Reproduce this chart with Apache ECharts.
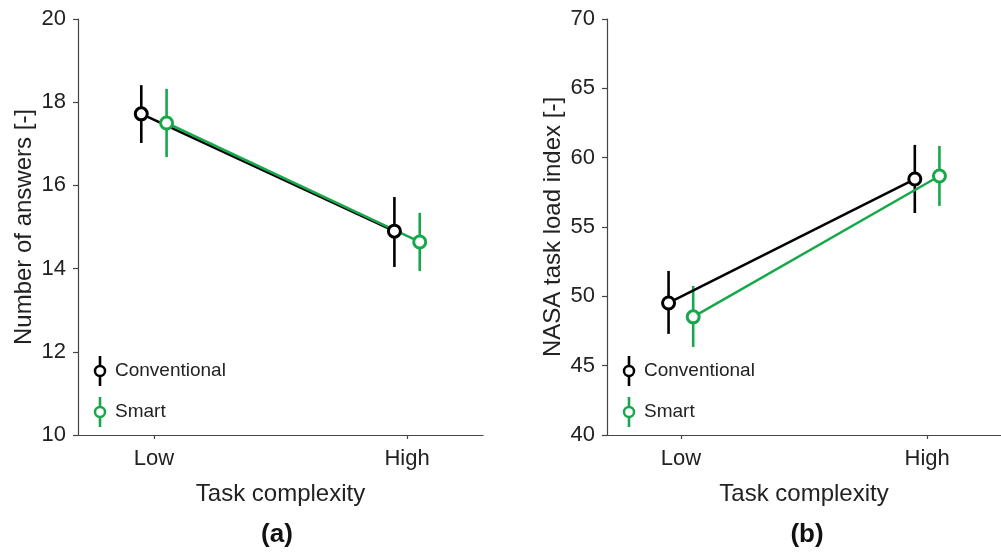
<!DOCTYPE html>
<html>
<head>
<meta charset="utf-8">
<script src="https://cdn.jsdelivr.net/npm/echarts@6/dist/echarts.min.js"></script>
<style>
html,body{margin:0;padding:0;background:#fff;}
#c{width:1001px;height:554px;}
</style>
</head>
<body>
<div id="c"></div>
<script>
// ---- data ----
const categories = ['Low', 'High'];
const catPos = [1, 2];
const groupOffset = 0.05;
const seriesNames = ['Conventional', 'Smart'];

// Panel (a): Number of answers
const convA = [17.72, 14.90];
const convA_lo = [17.02, 14.04];
const convA_hi = [18.41, 15.72];
const smartA = [17.50, 14.64];
const smartA_lo = [16.68, 13.94];
const smartA_hi = [18.32, 15.34];

// Panel (b): NASA task load index
const convB = [49.52, 58.46];
const convB_lo = [47.29, 56.01];
const convB_hi = [51.83, 60.92];
const smartB = [48.52, 58.68];
const smartB_lo = [46.35, 56.52];
const smartB_hi = [50.75, 60.85];

const yTicksA = {min: 10, max: 20, interval: 2};
const yTicksB = {min: 40, max: 70, interval: 5};

// ---- style ----
const BLACK = '#000000';
const GREEN = '#17a84b';
const AXIS = '#444444';
const TXT = '#222222';
const FONT = '"Liberation Sans", Arial, Helvetica, sans-serif';

const chart = echarts.init(document.getElementById('c'), null, {renderer: 'canvas'});

function lineData(vals, off) {
  return vals.map((v, i) => [catPos[i] + off, v]);
}
function errData(lo, hi, off) {
  return lo.map((l, i) => [catPos[i] + off, l, hi[i]]);
}

function xAxisDef(gi) {
  return {
    type: 'value', gridIndex: gi, min: 0.7, max: 2.3,
    name: 'Task complexity', nameLocation: 'middle', nameGap: 47,
    nameTextStyle: {fontSize: 24, color: TXT, fontFamily: FONT},
    axisLine: {show: true, lineStyle: {color: AXIS, width: 1.2}},
    axisTick: {show: true, customValues: catPos, length: 4, lineStyle: {color: AXIS, width: 1.2}},
    axisLabel: {show: true, customValues: catPos, margin: 13, fontSize: 22, color: TXT, fontFamily: FONT,
      formatter: v => categories[catPos.indexOf(Math.round(v))] || ''},
    splitLine: {show: false}
  };
}
function yAxisDef(gi, t, name) {
  return {
    type: 'value', gridIndex: gi, min: t.min, max: t.max, interval: t.interval,
    name: name, nameLocation: 'middle', nameGap: 42,
    nameTextStyle: {fontSize: 24, color: TXT, fontFamily: FONT},
    axisLine: {show: true, lineStyle: {color: AXIS, width: 1.2}},
    axisTick: {show: true, length: 5, lineStyle: {color: AXIS, width: 1.2}},
    axisLabel: {margin: 12, fontSize: 22, color: TXT, fontFamily: FONT},
    splitLine: {show: false}
  };
}

function errSeries(gi, data, color) {
  return {
    type: 'custom', xAxisIndex: gi, yAxisIndex: gi, z: 1, silent: true,
    encode: {x: 0, y: [1, 2]},
    data: data,
    renderItem: function (params, api) {
      const p1 = api.coord([api.value(0), api.value(1)]);
      const p2 = api.coord([api.value(0), api.value(2)]);
      return {type: 'line', shape: {x1: p1[0], y1: p1[1], x2: p2[0], y2: p2[1]},
        style: {stroke: color, lineWidth: 2.6}};
    }
  };
}
function lineSeries(gi, name, data, color) {
  return {
    type: 'line', name: name, xAxisIndex: gi, yAxisIndex: gi, z: 3,
    data: data, symbol: 'circle', symbolSize: 12, showSymbol: true,
    lineStyle: {color: color, width: 2.5},
    itemStyle: {color: '#ffffff', borderColor: color, borderWidth: 3},
    emphasis: {disabled: true}
  };
}

function legendGraphics(x, yConv, ySmart) {
  const items = [];
  [[yConv, BLACK, seriesNames[0]], [ySmart, GREEN, seriesNames[1]]].forEach(([y, c, t]) => {
    items.push({type: 'line', shape: {x1: x, y1: y - 15, x2: x, y2: y + 15}, style: {stroke: c, lineWidth: 2.6}, z: 10});
    items.push({type: 'circle', shape: {cx: x, cy: y, r: 5}, style: {fill: '#fff', stroke: c, lineWidth: 2.5}, z: 11});
    items.push({type: 'text', x: x + 15, y: y, style: {text: t, fill: TXT, font: '19px ' + FONT, textVerticalAlign: 'middle', verticalAlign: 'middle'}, z: 11});
  });
  return items;
}

const option = {
  animation: false,
  backgroundColor: '#ffffff',
  grid: [
    {left: 78, top: 19, width: 405, height: 416},
    {left: 607, top: 19, width: 405, height: 416}
  ],
  xAxis: [xAxisDef(0), xAxisDef(1)],
  yAxis: [yAxisDef(0, yTicksA, 'Number of answers [-]'), yAxisDef(1, yTicksB, 'NASA task load index [-]')],
  series: [
    errSeries(0, errData(convA_lo, convA_hi, -groupOffset), BLACK),
    errSeries(0, errData(smartA_lo, smartA_hi, groupOffset), GREEN),
    lineSeries(0, seriesNames[0], lineData(convA, -groupOffset), BLACK),
    lineSeries(0, seriesNames[1], lineData(smartA, groupOffset), GREEN),
    errSeries(1, errData(convB_lo, convB_hi, -groupOffset), BLACK),
    errSeries(1, errData(smartB_lo, smartB_hi, groupOffset), GREEN),
    lineSeries(1, seriesNames[0], lineData(convB, -groupOffset), BLACK),
    lineSeries(1, seriesNames[1], lineData(smartB, groupOffset), GREEN)
  ],
  graphic: [
    ...legendGraphics(100, 371, 412),
    ...legendGraphics(629, 371, 412),
    {type: 'text', x: 277, y: 535, style: {text: '(a)', fill: '#111', font: 'bold 26px ' + FONT, textAlign: 'center', textVerticalAlign: 'middle', align: 'center', verticalAlign: 'middle'}},
    {type: 'text', x: 807, y: 535, style: {text: '(b)', fill: '#111', font: 'bold 26px ' + FONT, textAlign: 'center', textVerticalAlign: 'middle', align: 'center', verticalAlign: 'middle'}}
  ]
};
chart.setOption(option);
</script>
</body>
</html>
